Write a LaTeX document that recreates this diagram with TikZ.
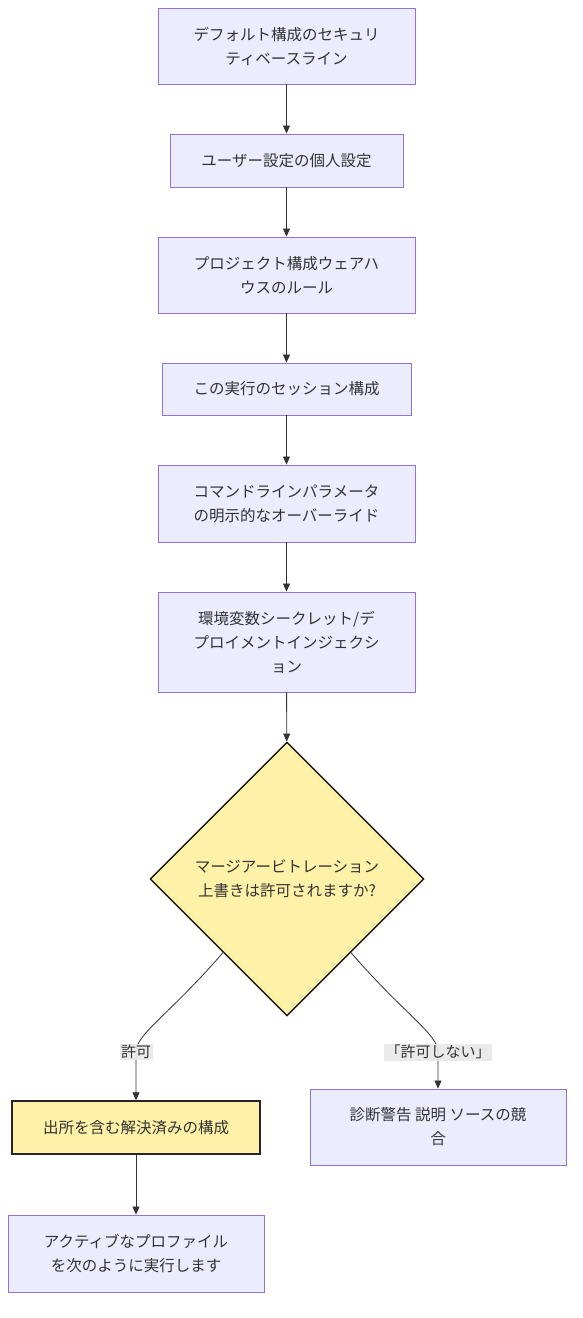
\documentclass[tikz,border=0pt]{standalone}
\usepackage{fontspec}
\setmainfont{Noto Sans CJK JP}
\usetikzlibrary{shapes.geometric,arrows.meta}
\definecolor{boxfill}{HTML}{ECECFF}
\definecolor{boxline}{HTML}{9370DB}
\definecolor{decfill}{HTML}{FFF2A8}
\definecolor{inkcol}{HTML}{333333}
\definecolor{lblfill}{HTML}{E8E8E8}

\begin{document}
\begin{tikzpicture}[
    x=1pt, y=-1pt,
    block/.style={draw=boxline, fill=boxfill, rectangle, align=center,
        inner sep=0pt, text=inkcol, line width=0.9pt,
        font=\fontsize{15.5}{24}\selectfont},
    hilite/.style={block, draw=black!85, fill=decfill, line width=1.4pt},
    decision/.style={draw=black!90, fill=decfill, diamond, aspect=1, align=center,
        inner sep=0pt, minimum width=274pt, minimum height=274pt,
        line width=1.4pt, text=inkcol, font=\fontsize{15.5}{24}\selectfont},
    lbl/.style={fill=lblfill, fill opacity=0.9, text opacity=1, inner sep=1.5pt,
        text=inkcol, font=\fontsize{15}{18}\selectfont},
    arrow/.style={draw=inkcol, line width=0.8pt, -{Triangle[length=8pt, width=7pt]}},
]
\useasboundingbox (0,0) rectangle (582,1318);

% ===== LAYERS =====
\node[block, minimum width=257pt, minimum height=76pt] (base)  at (286.5, 46)
    {デフォルト構成のセキュリ\\ティベースライン};
\node[block, minimum width=233pt, minimum height=53pt] (user)  at (286.5, 160.5)
    {ユーザー設定の個人設定};
\node[block, minimum width=257pt, minimum height=76pt] (proj)  at (286.5, 275)
    {プロジェクト構成ウェアハ\\ウスのルール};
\node[block, minimum width=249pt, minimum height=52pt] (sess)  at (286.5, 389)
    {この実行のセッション構成};
\node[block, minimum width=257pt, minimum height=77pt] (cli)   at (286.5, 503.5)
    {コマンドラインパラメータ\\の明示的なオーバーライド};
\node[block, minimum width=257pt, minimum height=100pt] (env)  at (286.5, 642)
    {環境変数シークレット/デ\\プロイメントインジェクシ\\ョン};

\node[decision] (dec) at (287, 879)
    {マージアービトレーション\\上書きは許可されますか?};

\node[hilite, minimum width=248pt, minimum height=53pt] (res)  at (136, 1127.5)
    {出所を含む解決済みの構成};
\node[block, minimum width=256pt, minimum height=76pt] (diag)  at (438, 1127)
    {診断警告 説明 ソースの競\\合};
\node[block, minimum width=256pt, minimum height=77pt] (prof)  at (136, 1253.5)
    {アクティブなプロファイル\\を次のように実行します};

\draw[arrow] (base) -- (user);
\draw[arrow] (user) -- (proj);
\draw[arrow] (proj) -- (sess);
\draw[arrow] (sess) -- (cli);
\draw[arrow] (cli) -- (env);
\draw[arrow] (env) -- (dec);

% Branches
\draw[arrow] (dec.229) .. controls (168,1016) and (136,1034) .. (136,1052)
    node[lbl] {許可} -- (res.north);
\draw[arrow] (dec.311) .. controls (404,1014) and (438,1034) .. (438,1052)
    node[lbl] {「許可しない」} -- (diag.north);

\draw[arrow] (res) -- (prof);

\end{tikzpicture}
\end{document}
